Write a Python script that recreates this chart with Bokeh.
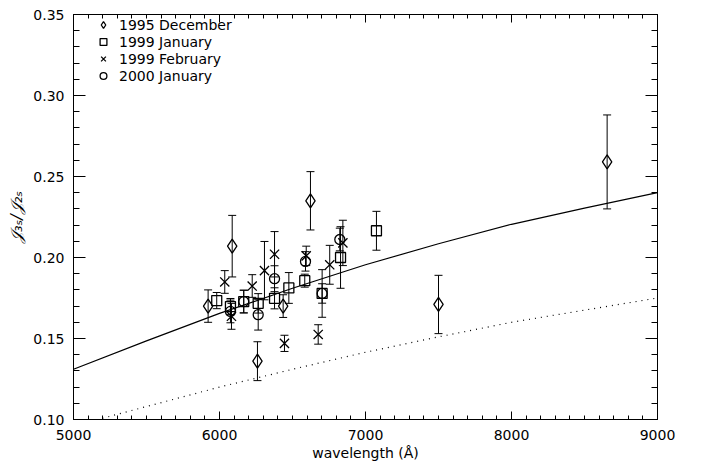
from bokeh.plotting import figure
from bokeh.models import (ColumnDataSource, Whisker, TeeHead, LinearAxis, Legend, LegendItem,
                          SingleIntervalTicker, NumeralTickFormatter, CustomJSTickFormatter, Range1d)
from bokeh.embed import file_html
from bokeh.resources import INLINE

# ---------------- data ----------------
dec95_wl = [5922, 6087, 6260, 6436, 6623, 7500, 8655]
dec95_val = [0.170, 0.207, 0.136, 0.170, 0.235, 0.171, 0.259]
dec95_err = [0.010, 0.019, 0.012, 0.007, 0.018, 0.018, 0.029]

jan99_wl = [5981, 6075, 6166, 6265, 6377, 6475, 6584, 6703, 6829, 7075]
jan99_val = [0.1734, 0.1697, 0.1728, 0.1717, 0.1748, 0.1812, 0.1857, 0.1778, 0.2000, 0.2165]
jan99_err = [0.005, 0.005, 0.007, 0.006, 0.0065, 0.0095, 0.004, 0.006, 0.019, 0.012]

feb99_wl = [6036, 6082, 6224, 6308, 6377, 6445, 6594, 6676, 6755, 6845]
feb99_val = [0.1849, 0.1637, 0.1824, 0.1919, 0.2020, 0.147, 0.201, 0.1525, 0.1955, 0.209]
feb99_err = [0.007, 0.008, 0.007, 0.018, 0.014, 0.005, 0.006, 0.006, 0.012, 0.014]

jan00_wl = [6075, 6166, 6265, 6377, 6589, 6703, 6824]
jan00_val = [0.1667, 0.1728, 0.1647, 0.1869, 0.1976, 0.1778, 0.2111]
jan00_err = [0.007, 0.007, 0.0095, 0.008, 0.006, 0.0147, 0.007]

model_wl = [5000, 5500, 6000, 6500, 7000, 7500, 8000, 8500, 9000]
model_solid = [0.131, 0.1485, 0.1655, 0.181, 0.1955, 0.2085, 0.2205, 0.2305, 0.240]
model_dotted = [0.096, 0.108, 0.120, 0.131, 0.1415, 0.151, 0.160, 0.1675, 0.175]

series_labels = ["1995 December", "1999 January", "1999 February", "2000 January"]
x_label = "wavelength (Å)"
y_label = "𝒥₃ₛ/𝒥₂ₛ"

FONT = "DejaVu Sans"

p = figure(width=702, height=468, output_backend="svg", toolbar_location=None,
           x_range=Range1d(5000, 9000), y_range=Range1d(0.10, 0.3500001),
           min_border_left=73, min_border_right=45, min_border_top=14, min_border_bottom=49,
           x_axis_location=None, y_axis_location=None)
p.grid.visible = False
p.outline_line_color = None
p.background_fill_color = "white"
p.border_fill_color = "white"

xt = SingleIntervalTicker(interval=1000, num_minor_ticks=10)
yt = SingleIntervalTicker(interval=0.05, num_minor_ticks=5)
blank = CustomJSTickFormatter(code="return ''")


def style(ax, horiz):
    ax.axis_line_color = "black"
    ax.axis_line_width = 1
    ax.major_tick_line_color = "black"
    ax.minor_tick_line_color = "black"
    ax.major_tick_out = 0
    ax.minor_tick_out = 0
    if horiz:
        ax.major_tick_in = 8
        ax.minor_tick_in = 4
    else:
        ax.major_tick_in = 12
        ax.minor_tick_in = 6
    ax.major_label_text_font = FONT
    ax.major_label_text_font_size = "14px"
    ax.major_label_text_color = "black"
    ax.axis_label_text_font = FONT
    ax.axis_label_text_font_size = "14px"
    ax.axis_label_text_font_style = "normal"
    ax.axis_label_text_color = "black"


xb = LinearAxis(ticker=xt, axis_label=x_label)
style(xb, True)
xb.major_label_standoff = 10
xb.axis_label_standoff = 2
p.add_layout(xb, "below")

xa = LinearAxis(ticker=xt, formatter=blank)
style(xa, True)
xa.major_label_standoff = 0
p.add_layout(xa, "above")

yl = LinearAxis(ticker=yt, formatter=NumeralTickFormatter(format="0.00"), axis_label=y_label)
style(yl, False)
yl.major_label_standoff = 9
yl.axis_label_standoff = 4
yl.axis_label_text_font_style = "italic"
yl.axis_label_text_font_size = "16px"
p.add_layout(yl, "left")

yr = LinearAxis(ticker=yt, formatter=blank)
style(yr, False)
yr.major_label_standoff = 0
p.add_layout(yr, "right")

# model curves
p.line(model_wl, model_solid, line_color="black", line_width=1.2)
p.line(model_wl, model_dotted, line_color="black", line_width=1.2, line_dash="1 5")

series = [
    (dec95_wl, dec95_val, dec95_err, "diamond", 14),
    (jan99_wl, jan99_val, jan99_err, "square", 10),
    (feb99_wl, feb99_val, feb99_err, "x", 13),
    (jan00_wl, jan00_val, jan00_err, "circle", 10),
]

items = []
for (wl, val, err, marker, size), lab in zip(series, series_labels):
    src = ColumnDataSource(dict(x=wl, y=val,
                                lo=[v - e for v, e in zip(val, err)],
                                hi=[v + e for v, e in zip(val, err)]))
    w = Whisker(source=src, base="x", upper="hi", lower="lo", dimension="height",
                line_color="black", line_width=1,
                upper_head=TeeHead(size=8, line_color="black", line_width=1),
                lower_head=TeeHead(size=8, line_color="black", line_width=1))
    p.add_layout(w)
    r = p.scatter("x", "y", source=src, marker=marker, size=size,
                  line_color="black", fill_color=None, line_width=1.3)
    items.append(LegendItem(label=lab, renderers=[r]))

leg = Legend(items=items, location=(18, 335), orientation="vertical",
             border_line_color=None, background_fill_alpha=0,
             padding=0, margin=0, spacing=0,
             glyph_width=24, glyph_height=17, label_height=17, label_standoff=4,
             label_text_font=FONT, label_text_font_size="14px", label_text_color="black")
p.add_layout(leg)

open("out.html", "w").write(file_html(p, INLINE))
